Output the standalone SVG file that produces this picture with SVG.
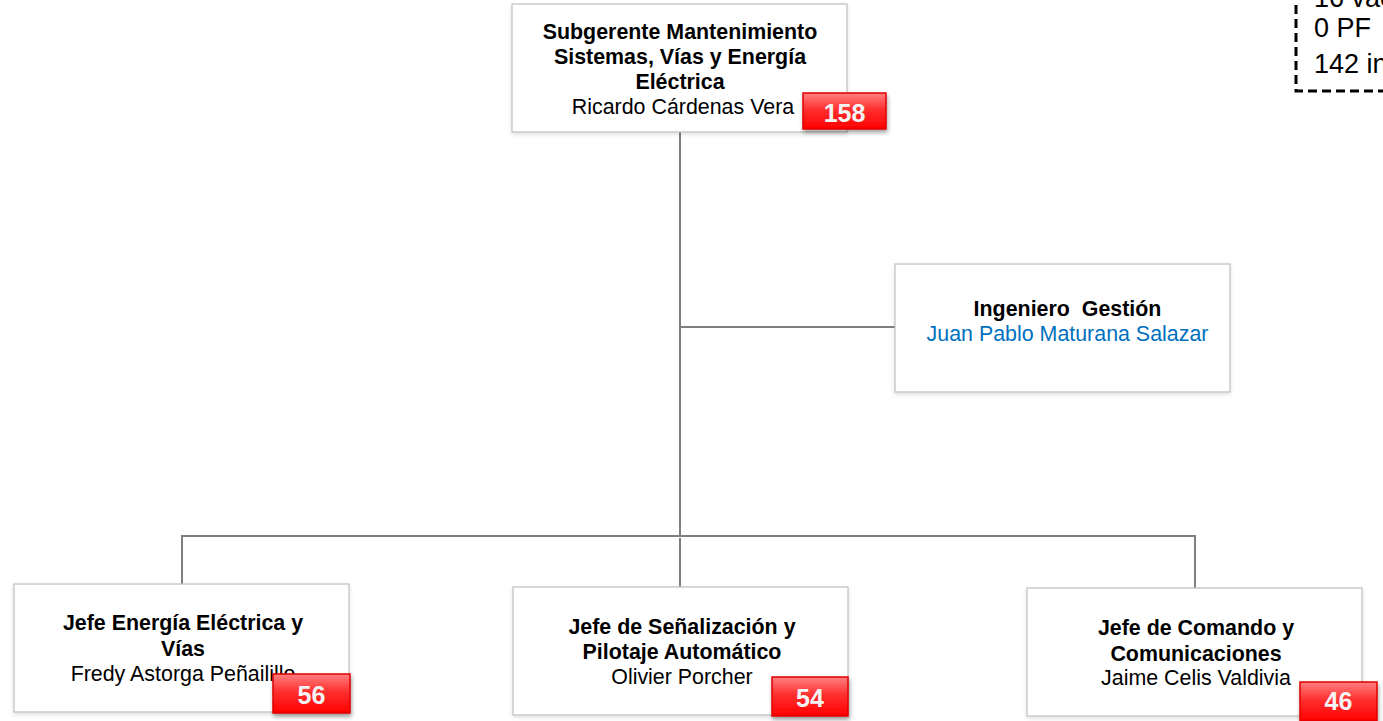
<svg xmlns="http://www.w3.org/2000/svg" width="1383" height="721" viewBox="0 0 1383 721">
<style>
.box{fill:#ffffff;stroke:#bfbfbf;stroke-width:1.2;filter:url(#sh)}
.t{font-family:"Liberation Sans",Arial,sans-serif;font-size:21.4px;fill:#000;text-anchor:middle}
.b{font-weight:bold}
.blue{fill:#0070c0}
.badge{fill:url(#rg);stroke:#e00000;stroke-width:1.5;filter:url(#bsh)}
.bt{font-family:"Liberation Sans",Arial,sans-serif;font-size:25px;font-weight:bold;fill:#f4f4f4;text-anchor:middle}
.con{stroke:#7f7f7f;stroke-width:2;fill:none}
.note{font-family:"Liberation Sans",Arial,sans-serif;font-size:27px;fill:#000}
</style>
<defs>
<linearGradient id="rg" x1="0" y1="0" x2="0" y2="1">
<stop offset="0" stop-color="#ff8080"/>
<stop offset="0.45" stop-color="#ff3030"/>
<stop offset="1" stop-color="#ff0000"/>
</linearGradient>
<filter id="sh" x="-5%" y="-5%" width="110%" height="115%">
<feDropShadow dx="0" dy="2" stdDeviation="2" flood-color="#000" flood-opacity="0.12"/>
</filter>
<filter id="bsh" x="-20%" y="-20%" width="140%" height="160%">
<feDropShadow dx="1" dy="3" stdDeviation="2" flood-color="#000" flood-opacity="0.35"/>
</filter>
</defs>

<g id="connectors">
<line class="con" x1="680" y1="132" x2="680" y2="535"/>
<line class="con" x1="680" y1="327" x2="895" y2="327"/>
<line class="con" x1="181" y1="536" x2="1196" y2="536"/>
<line class="con" x1="182" y1="536" x2="182" y2="584"/>
<line class="con" x1="680" y1="538" x2="680" y2="587"/>
<line class="con" x1="1195" y1="536" x2="1195" y2="588"/>
</g>

<g id="note">
<rect x="1296" y="-20" width="200" height="111" fill="none" stroke="#000" stroke-width="3" stroke-dasharray="9,5"/>
<text class="note" x="1314" y="7">16 vacantes</text>
<text class="note" x="1314" y="37">0 PF</text>
<text class="note" x="1314" y="73">142 internos</text>
</g>

<g id="node-subgerente">
<rect class="box" x="512" y="4" width="335" height="128"/>
<text class="t b" x="680" y="38.5">Subgerente Mantenimiento</text>
<text class="t b" x="680" y="63.8">Sistemas, Vías y Energía</text>
<text class="t b" x="680" y="89">Eléctrica</text>
<text class="t" x="683" y="114.3">Ricardo Cárdenas Vera</text>
<rect class="badge" x="803" y="93" width="83" height="36"/>
<text class="bt" x="844.5" y="122">158</text>
</g>

<g id="node-ingeniero">
<rect class="box" x="895" y="264" width="335" height="128"/>
<text class="t b" x="1067.5" y="316" xml:space="preserve">Ingeniero  Gestión</text>
<text class="t blue" x="1067.5" y="341">Juan Pablo Maturana Salazar</text>
</g>

<g id="node-energia">
<rect class="box" x="14" y="584" width="335" height="128"/>
<text class="t b" x="183" y="630">Jefe Energía Eléctrica y</text>
<text class="t b" x="183" y="655.5">Vías</text>
<text class="t" x="183" y="681">Fredy Astorga Peñailillo</text>
<rect class="badge" x="273" y="674" width="77" height="39"/>
<text class="bt" x="311.5" y="703.5">56</text>
</g>

<g id="node-senalizacion">
<rect class="box" x="513" y="587" width="335" height="128"/>
<text class="t b" x="682" y="633.5">Jefe de Señalización y</text>
<text class="t b" x="682" y="658.5">Pilotaje Automático</text>
<text class="t" x="682" y="684">Olivier Porcher</text>
<rect class="badge" x="772" y="677" width="76" height="39"/>
<text class="bt" x="810" y="706.7">54</text>
</g>

<g id="node-comando">
<rect class="box" x="1027" y="588" width="335" height="128"/>
<text class="t b" x="1196" y="635">Jefe de Comando y</text>
<text class="t b" x="1196" y="660.5">Comunicaciones</text>
<text class="t" x="1196" y="685">Jaime Celis Valdivia</text>
<rect class="badge" x="1300" y="682" width="77" height="39"/>
<text class="bt" x="1338.5" y="710">46</text>
</g>
</svg>
